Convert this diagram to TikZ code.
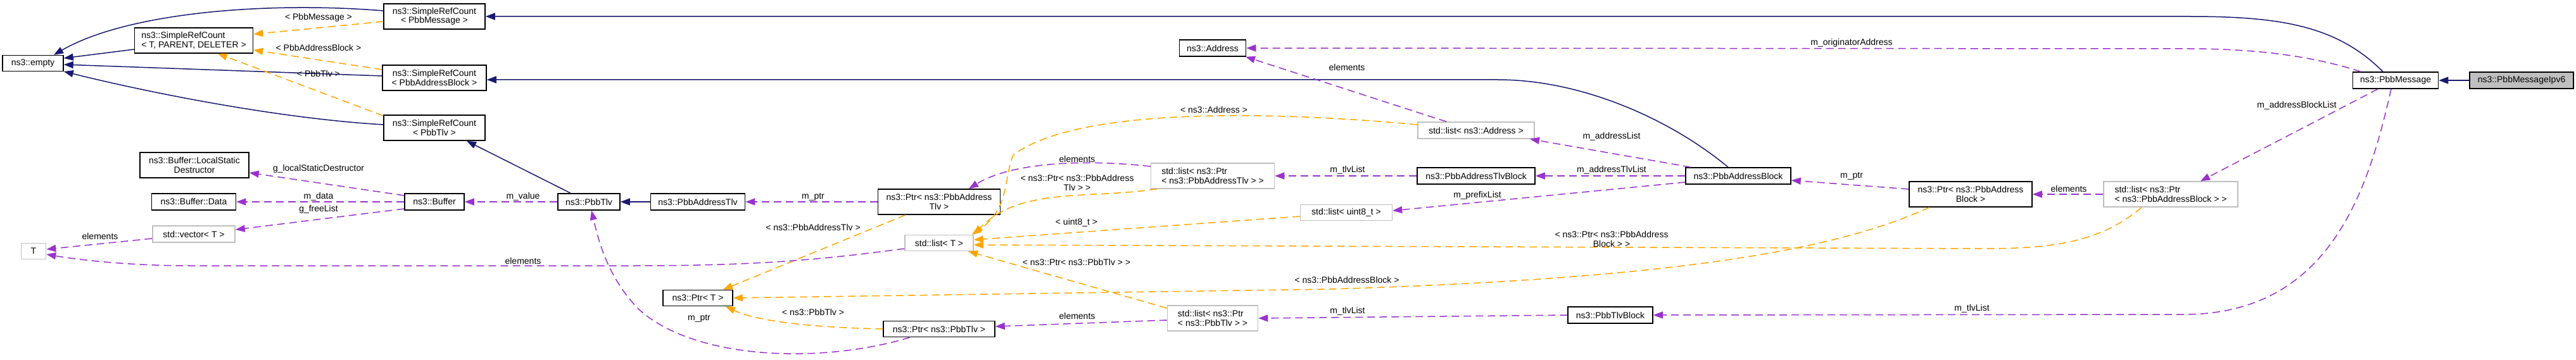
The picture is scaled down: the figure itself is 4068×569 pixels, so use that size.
\documentclass[tikz,border=0pt]{standalone}
\usepackage{fontspec}
\setmainfont{Liberation Sans}
\usetikzlibrary{arrows.meta}
\definecolor{navy}{HTML}{191970}
\definecolor{orng}{HTML}{FFA500}
\definecolor{purp}{HTML}{9A32CD}
\definecolor{gbord}{HTML}{BFBFBF}
\begin{document}
\begin{tikzpicture}[x=1pt,y=-1pt,
  every node/.style={font=\fontsize{14}{14.5}\selectfont},
  cls/.style={draw=black, line width=1.5pt, fill=white, inner sep=0pt, align=center},
  tmpl/.style={cls, draw=gbord},
  lbl/.style={inner sep=0pt, align=center},
  tip/.style={-{Triangle[length=15pt,width=11pt]}},
  inh/.style={draw=navy, line width=1.5pt, tip},
  usage/.style={draw=purp, line width=1.5pt, dash pattern=on 12pt off 7pt, tip},
  inst/.style={draw=orng, line width=1.5pt, dash pattern=on 12pt off 7pt, tip},
]
\useasboundingbox (0,0) rectangle (4068,569);

% nodes
\node[cls, minimum width=96pt, minimum height=25pt] (empty) at (52,100) {ns3::empty};
\node[cls, minimum width=187pt, minimum height=40pt, align=left] (srcT) at (306,64) {ns3::SimpleRefCount\\< T, PARENT, DELETER >};
\node[cls, minimum width=160pt, minimum height=40pt] (srcMsg) at (686,26) {ns3::SimpleRefCount\\< PbbMessage >};
\node[cls, minimum width=164pt, minimum height=40pt] (srcAB) at (686,123) {ns3::SimpleRefCount\\< PbbAddressBlock >};
\node[cls, minimum width=160pt, minimum height=40pt] (srcTlv) at (686,202) {ns3::SimpleRefCount\\< PbbTlv >};
\node[cls, minimum width=172pt, minimum height=40pt] (lsd) at (307,261) {ns3::Buffer::LocalStatic\\Destructor};
\node[cls, minimum width=133pt, minimum height=26pt] (bufdata) at (306,319) {ns3::Buffer::Data};
\node[tmpl, minimum width=130pt, minimum height=26pt] (vecT) at (306,370) {std::vector< T >};
\node[tmpl, minimum width=39pt, minimum height=25pt] (T) at (53,397) {T};
\node[cls, minimum width=94pt, minimum height=26pt] (buffer) at (686,319) {ns3::Buffer};
\node[cls, minimum width=98pt, minimum height=26pt] (pbbtlv) at (930,319) {ns3::PbbTlv};
\node[cls, minimum width=149pt, minimum height=26pt] (addrtlv) at (1102,319) {ns3::PbbAddressTlv};
\node[cls, minimum width=110pt, minimum height=25pt] (ptrT) at (1102,471) {ns3::Ptr< T >};
\node[cls, minimum width=193pt, minimum height=40pt] (ptrAT) at (1483,319) {ns3::Ptr< ns3::PbbAddress\\Tlv >};
\node[tmpl, minimum width=108pt, minimum height=25pt] (listT) at (1483,384) {std::list< T >};
\node[cls, minimum width=176pt, minimum height=25pt] (ptrTlv) at (1483,520) {ns3::Ptr< ns3::PbbTlv >};
\node[tmpl, minimum width=195pt, minimum height=40pt, align=left] (listPAT) at (1915,278) {std::list< ns3::Ptr\\< ns3::PbbAddressTlv > >};
\node[tmpl, minimum width=143pt, minimum height=40pt, align=left] (listPTlv) at (1915,503) {std::list< ns3::Ptr\\< ns3::PbbTlv > >};
\node[tmpl, minimum width=145pt, minimum height=25pt] (listU8) at (2126,336) {std::list< uint8\_t >};
\node[cls, minimum width=105pt, minimum height=26pt] (address) at (1915,76) {ns3::Address};
\node[tmpl, minimum width=184pt, minimum height=26pt] (listAddr) at (2331,206) {std::list< ns3::Address >};
\node[cls, minimum width=186pt, minimum height=26pt] (atlvblock) at (2331,278) {ns3::PbbAddressTlvBlock};
\node[cls, minimum width=166pt, minimum height=26pt] (addrblock) at (2745,278) {ns3::PbbAddressBlock};
\node[cls, minimum width=134pt, minimum height=26pt] (tlvblock) at (2543,498) {ns3::PbbTlvBlock};
\node[cls, minimum width=135pt, minimum height=26pt] (msg) at (3783,127) {ns3::PbbMessage};
\node[cls, fill=gbord, minimum width=164pt, minimum height=26pt] (ipv6) at (3982,127) {ns3::PbbMessageIpv6};
\node[cls, minimum width=194pt, minimum height=40pt] (ptrAB) at (3112,307) {ns3::Ptr< ns3::PbbAddress\\Block >};
\node[tmpl, minimum width=212pt, minimum height=40pt, align=left] (listPAB) at (3428,307) {std::list< ns3::Ptr\\< ns3::PbbAddressBlock > >};

% inheritance
\draw[inh] ([yshift=9pt]srcMsg.west) .. controls (420,2) and (200,20) .. ([xshift=33pt]empty.north);
\draw[inh] ([yshift=-14pt]srcT.west) -- ([yshift=8pt]empty.east);
\draw[inh] ([yshift=3pt]srcAB.west) -- ([yshift=-2pt]empty.east);
\draw[inh] ([yshift=5pt]srcTlv.west) .. controls (450,188) and (250,150) .. ([yshift=-13pt]empty.east);
\draw[inh] ([xshift=-20pt]msg.north) .. controls (3690,40) and (3600,26) .. (3456,26) -- (srcMsg.east);
\draw[inh] ([xshift=-16pt]addrblock.north) .. controls (2640,190) and (2500,126) .. (2365,126) -- ([yshift=-3pt]srcAB.east);
\draw[inh] ([xshift=-29pt]pbbtlv.north) -- ([xshift=51pt]srcTlv.south);
\draw[inh] (addrtlv.west) -- (pbbtlv.east);
\draw[inh] (ipv6.west) -- (msg.east);

% template instantiations
\draw[inst] ([yshift=-8pt]srcMsg.west) -- ([yshift=10pt]srcT.east);
\node[lbl] (l1) at (503,28) {< PbbMessage >};
\draw[inst] ([yshift=13pt]srcAB.west) -- ([yshift=-15pt]srcT.east);
\node[lbl] (l2) at (503,75) {< PbbAddressBlock >};
\draw[inst] ([yshift=19pt]srcTlv.west) -- ([xshift=38pt]srcT.south);
\node[lbl] (l3) at (503,116) {< PbbTlv >};
\draw[inst] ([xshift=-53pt]ptrAT.south) -- ([xshift=40pt]ptrT.north);
\node[lbl] (l4) at (1284,359) {< ns3::PbbAddressTlv >};
\draw[inst] ([xshift=-65pt]ptrAB.south) .. controls (2900,395) and (2650,440) .. (2100,457) -- (ptrT.east);
\node[lbl] (l5) at (2127,442) {< ns3::PbbAddressBlock >};
\draw[inst] ([xshift=-46pt]listPAB.south) .. controls (3320,380) and (3250,393) .. (3134,393) -- ([yshift=-3pt]listT.east);
\node[lbl] (l6) at (2545,378) {< ns3::Ptr< ns3::PbbAddress\\Block > >};
\draw[inst] ([yshift=-6pt]listU8.west) -- ([yshift=5pt]listT.east);
\node[lbl] (l7) at (1700,352) {< uint8\_t >};
\draw[inst] ([xshift=-88pt]listPAT.south) .. controls (1720,315) and (1610,295) .. (listT.north east);
\node[lbl] (l8) at (1701,289) {< ns3::Ptr< ns3::PbbAddress\\Tlv > >};
\draw[inst] ([yshift=9pt]listAddr.west) .. controls (2000,175) and (1700,170) .. (1600,245) .. controls (1585,280) and (1595,330) .. ([xshift=-3pt]listT.north east);
\node[lbl] (l9) at (1917,173) {< ns3::Address >};
\draw[inst] ([yshift=16pt]listPTlv.west) -- ([xshift=46pt]listT.south);
\node[lbl] (l10) at (1700,414) {< ns3::Ptr< ns3::PbbTlv > >};
\draw[inst] (ptrTlv.west) .. controls (1300,518) and (1200,510) .. ([xshift=44pt]ptrT.south);
\node[lbl] (l11) at (1284,493) {< ns3::PbbTlv >};

% usage
\draw[usage] ([yshift=10pt]buffer.west) -- ([yshift=-12pt]lsd.east);
\node[lbl] (u1) at (503,267) {g\_localStaticDestructor};
\draw[usage] (buffer.west) -- (bufdata.east);
\node[lbl] (u2) at (503,311) {m\_data};
\draw[usage] ([yshift=-11pt]buffer.west) -- ([yshift=7pt]vecT.east);
\node[lbl] (u3) at (503,331) {g\_freeList};
\draw[usage] ([yshift=-7pt]vecT.west) -- ([yshift=3pt]T.east);
\node[lbl] (u4) at (158,373) {elements};
\draw[usage] ([yshift=-9pt]listT.west) .. controls (1300,410) and (1200,420) .. (1000,420) -- (300,420) .. controls (200,420) and (120,410) .. ([yshift=-5pt]T.east);
\node[lbl] (u5) at (826,412) {elements};
\draw[usage] (pbbtlv.west) -- (buffer.east);
\node[lbl] (u6) at (826,311) {m\_value};
\draw[usage] (ptrAT.west) -- (addrtlv.east);
\node[lbl] (u7) at (1284,311) {m\_ptr};
\draw[usage] ([xshift=-46pt]ptrTlv.south) .. controls (1300,575) and (1100,570) .. (1010,490) .. controls (960,440) and (945,380) .. ([xshift=4pt]pbbtlv.south);
\node[lbl] (u8) at (1104,503) {m\_ptr};
\draw[usage] ([yshift=15pt]listPAT.west) .. controls (1720,252) and (1600,255) .. ([xshift=47pt]ptrAT.north);
\node[lbl] (u9) at (1701,251) {elements};
\draw[usage] ([yshift=-3pt]listPTlv.west) -- ([yshift=4pt]ptrTlv.east);
\node[lbl] (u10) at (1701,499) {elements};
\draw[usage] (atlvblock.west) -- (listPAT.east);
\node[lbl] (u11) at (2128,269) {m\_tlvList};
\draw[usage] (tlvblock.west) -- (listPTlv.east);
\node[lbl] (u12) at (2128,492) {m\_tlvList};
\draw[usage] ([xshift=-47pt]listAddr.north) -- ([xshift=52pt]address.south);
\node[lbl] (u13) at (2127,106) {elements};
\draw[usage] ([xshift=-55pt]msg.north) .. controls (3650,88) and (3560,77) .. (3456,77) -- (address.east);
\node[lbl] (u14) at (2924,68) {m\_originatorAddress};
\draw[usage] ([xshift=-75pt]addrblock.north) -- ([xshift=85pt]listAddr.south);
\node[lbl] (u15) at (2545,216) {m\_addressList};
\draw[usage] (addrblock.west) -- (atlvblock.east);
\node[lbl] (u16) at (2545,269) {m\_addressTlvList};
\draw[usage] ([yshift=-10pt]addrblock.west) -- ([yshift=3pt]listU8.east);
\node[lbl] (u17) at (2333,309) {m\_prefixList};
\draw[usage] ([yshift=8pt]ptrAB.west) -- ([yshift=-7pt]addrblock.east);
\node[lbl] (u18) at (2924,278) {m\_ptr};
\draw[usage] (listPAB.west) -- (ptrAB.east);
\node[lbl] (u19) at (3267,298) {elements};
\draw[usage] ([xshift=-28pt]msg.south) -- ([xshift=47pt]listPAB.north);
\node[lbl] (u20) at (3627,167) {m\_addressBlockList};
\draw[usage] ([xshift=-7pt]msg.south) .. controls (3740,300) and (3680,497) .. (3448,497) -- (tlvblock.east);
\node[lbl] (u21) at (3114,488) {m\_tlvList};
\end{tikzpicture}
\end{document}
